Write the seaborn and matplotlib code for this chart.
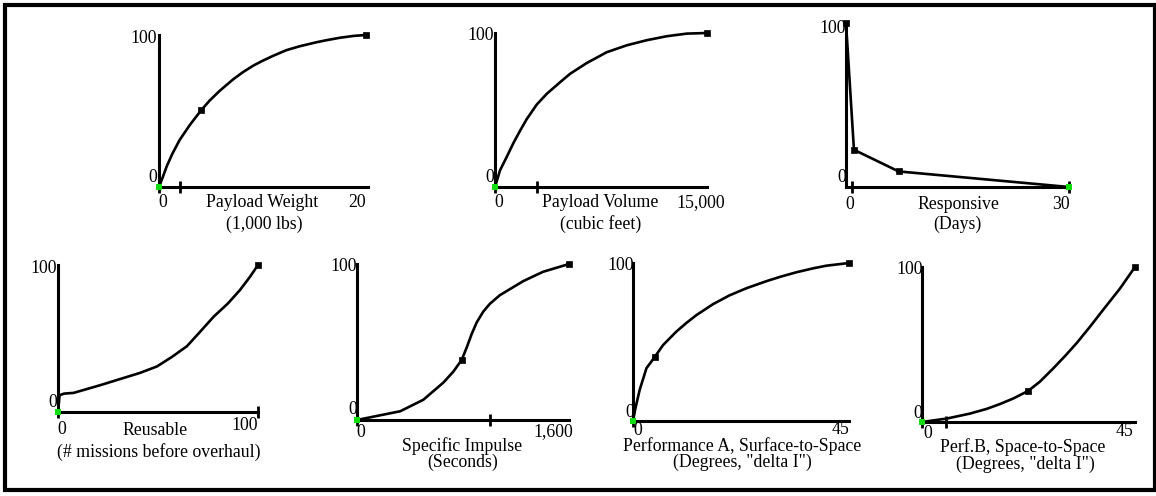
"""
Seven small value curves (utility 0-100) for launch vehicle attributes.
"""

import matplotlib
matplotlib.use("Agg")
import matplotlib.pyplot as plt
import matplotlib.patches as mpatches
import seaborn as sns

W, H = 1156, 496

# ---- data ----
weight_x = [0, 0.42, 0.74, 1.3, 2.0, 3.0, 4.1, 4.9, 5.9, 7.2, 8.1, 9.1, 10.0,
            11.0, 12.3, 13.6, 15.2, 16.2, 17.5, 18.8, 20]
weight_y = [0, 7.5, 13.5, 22, 31, 41, 50.7, 56.9, 63.5, 71, 75.5, 79.8, 83.0,
            86.2, 90, 92.6, 95.2, 96.6, 98.2, 99.4, 100]

volume_x = [0, 354, 827, 1300, 1770, 2240, 2950, 3660, 4600, 5310, 6490, 7900,
            9320, 10730, 12150, 13560, 15000]
volume_y = [0, 10.8, 19.5, 28.5, 36.5, 44, 53.5, 60.5, 68, 73.5, 80.5, 87.5,
            92, 95.3, 97.9, 99.6, 100]

days_x = [-0.9, 0.2, 6.4, 30]
days_y = [100, 22.7, 9.5, 0]

reuse_x = [0, 0.8, 3, 7.8, 21, 41, 49.5, 57, 64.5, 71, 77.8, 85, 91, 96, 100]
reuse_y = [0, 11.4, 12.5, 13, 18.2, 26.6, 31, 37.5, 44.8, 54.5, 64.8, 73.9, 83, 92, 100]

isp_x = [0, 150, 326, 501, 652, 727, 790, 828, 865, 903, 953, 1003, 1078,
         1254, 1404, 1600]
isp_y = [0, 2.6, 5.6, 13, 24, 31, 38.5, 46.5, 55, 62.5, 69.5, 74.5, 80,
         89, 95, 100]

perfa_x = [0, 0.5, 1.39, 2.8, 4.5, 6.25, 9.0, 11.1, 13.2, 16.7, 20.1, 23.6,
           27.8, 30.6, 34.0, 37.5, 40.3, 45]
perfa_y = [0, 8, 19.7, 33.4, 40.4, 48, 56.5, 62, 67, 74, 79.5, 84, 88.5,
           91.2, 94.1, 96.6, 98.3, 100]

perfb_x = [0, 5.2, 10.1, 13.6, 16.4, 19.3, 22.4, 24.9, 27.7, 30.2, 32.7,
           35.5, 38.3, 41.8, 45]
perfb_y = [0, 2.2, 5.4, 8.4, 11.5, 15.2, 20, 26, 34.5, 42.5, 51, 61.5,
           72.5, 86, 100]

series_x = [weight_x, volume_x, days_x, reuse_x, isp_x, perfa_x, perfb_x]
series_y = [weight_y, volume_y, days_y, reuse_y, isp_y, perfa_y, perfb_y]
marked = [[6, 20], [16], [0, 1, 2], [14], [6, 15], [4, 17], [6, 14]]
green = [0, 0, 3, 0, 0, 0, 0]

x_limits = [(0, 20.2), (0, 15000), (-0.9, 30), (0, 100), (0, 1600), (0, 45), (0, 45)]
x_ticks = [[0, 2], [0, 3000], [0, 30], [0, 100], [0, 1000], [0], [0, 5]]
x_end_labels = ["20", "15,000", "30", "100", "1,600", "45", "45"]
titles = ["Payload Weight", "Payload Volume", "Responsive", "Reusable",
          "Specific Impulse", "Performance A, Surface-to-Space",
          "Perf.B, Space-to-Space"]
units = ["(1,000 lbs)", "(cubic feet)", "(Days)", "(# missions before overhaul)",
         "(Seconds)", "(Degrees, \"delta I\")", "(Degrees, \"delta I\")"]

# ---- layout in pixels: axes box (left, right, bottom, top) ----
BOXES = [(159, 368, 187, 35), (495, 707, 187, 33), (846, 1069, 187, 23),
         (58, 258, 412, 265), (357, 569, 420, 264), (633, 849, 421, 263),
         (922, 1135, 422, 267)]
# text centres: y100, y0, x0, xend, title, unit
TEXT_POS = [
    [(153, 36.7), (153, 175.7), (163, 200.7), (357.5, 200.7), (262, 200.7), (264, 223)],
    [(490, 34), (490, 175.7), (498.5, 200.7), (701, 200.7), (600.5, 200.7), (601, 223)],
    [(842, 26.7), (842, 175.7), (850, 202.7), (1061, 202.7), (958.5, 202.7), (957.7, 223.3)],
    [(53, 266.7), (53, 401), (62, 428), (245, 424), (155, 429), (159, 451)],
    [(353, 265), (353, 408), (360.5, 431), (553, 430), (462, 445), (462.5, 461)],
    [(630, 264), (630, 410.7), (638, 429), (840.5, 427.5), (742.5, 445), (742.5, 461)],
    [(919, 268), (918, 411.7), (927.5, 432), (1125, 430), (1022.5, 446.5), (1025, 462.5)],
]

sns.set_theme(style="white")
plt.rcParams["font.family"] = ["Liberation Serif", "DejaVu Serif"]
FS = 12.8


def _txt(fig, pos, s, ha="center"):
    x, y = pos
    if ha == "right":
        x += 4
    fig.text(x / W, 1 - (y + 6) / H, s, ha=ha, va="baseline",
             fontsize=FS, color="black")


fig = plt.figure(figsize=(W / 100, H / 100), dpi=100)
fig.patch.set_facecolor("white")

for i, (l, r, b, t) in enumerate(BOXES):
    ax = fig.add_axes([l / W, 1 - b / H, (r - l) / W, (b - t) / H])
    ax.patch.set_alpha(0)
    for side in ["top", "right"]:
        ax.spines[side].set_visible(False)
    for side in ["left", "bottom"]:
        ax.spines[side].set_color("black")
        ax.spines[side].set_linewidth(2.2)
    ax.set_xlim(*x_limits[i])
    ax.set_ylim(0, 100)
    ax.set_xticks(x_ticks[i])
    ax.set_xticklabels([])
    ax.set_yticks([])
    ax.tick_params(axis="x", direction="inout", length=9, width=2.0,
                   color="black", bottom=True)

    xs, ys = series_x[i], series_y[i]
    sns.lineplot(x=xs, y=ys, ax=ax, color="black", lw=1.9, sort=False,
                 estimator=None, clip_on=False, zorder=3)
    mx = [xs[k] for k in marked[i]]
    my = [ys[k] for k in marked[i]]
    sns.scatterplot(x=mx, y=my, ax=ax, marker="s", s=16, color="black",
                    edgecolor="black", linewidth=0.5, clip_on=False, zorder=4)
    g = green[i]
    sns.scatterplot(x=[xs[g]], y=[ys[g]], ax=ax, marker="s", s=22,
                    color="#11dd11", edgecolor="#11dd11", linewidth=0,
                    clip_on=False, zorder=5)

    p = TEXT_POS[i]
    _txt(fig, p[0], "100", ha="right")
    _txt(fig, p[1], "0", ha="right")
    _txt(fig, p[2], "0")
    _txt(fig, p[3], x_end_labels[i])
    _txt(fig, p[4], titles[i])
    _txt(fig, p[5], units[i])

# thick outer frame
fig.add_artist(mpatches.Rectangle((5 / W, 1 - 489.5 / H), 1149.5 / W, 484.5 / H,
                                  transform=fig.transFigure, fill=False,
                                  edgecolor="black", lw=3))

fig.savefig("out.png", dpi=100, facecolor="white")
